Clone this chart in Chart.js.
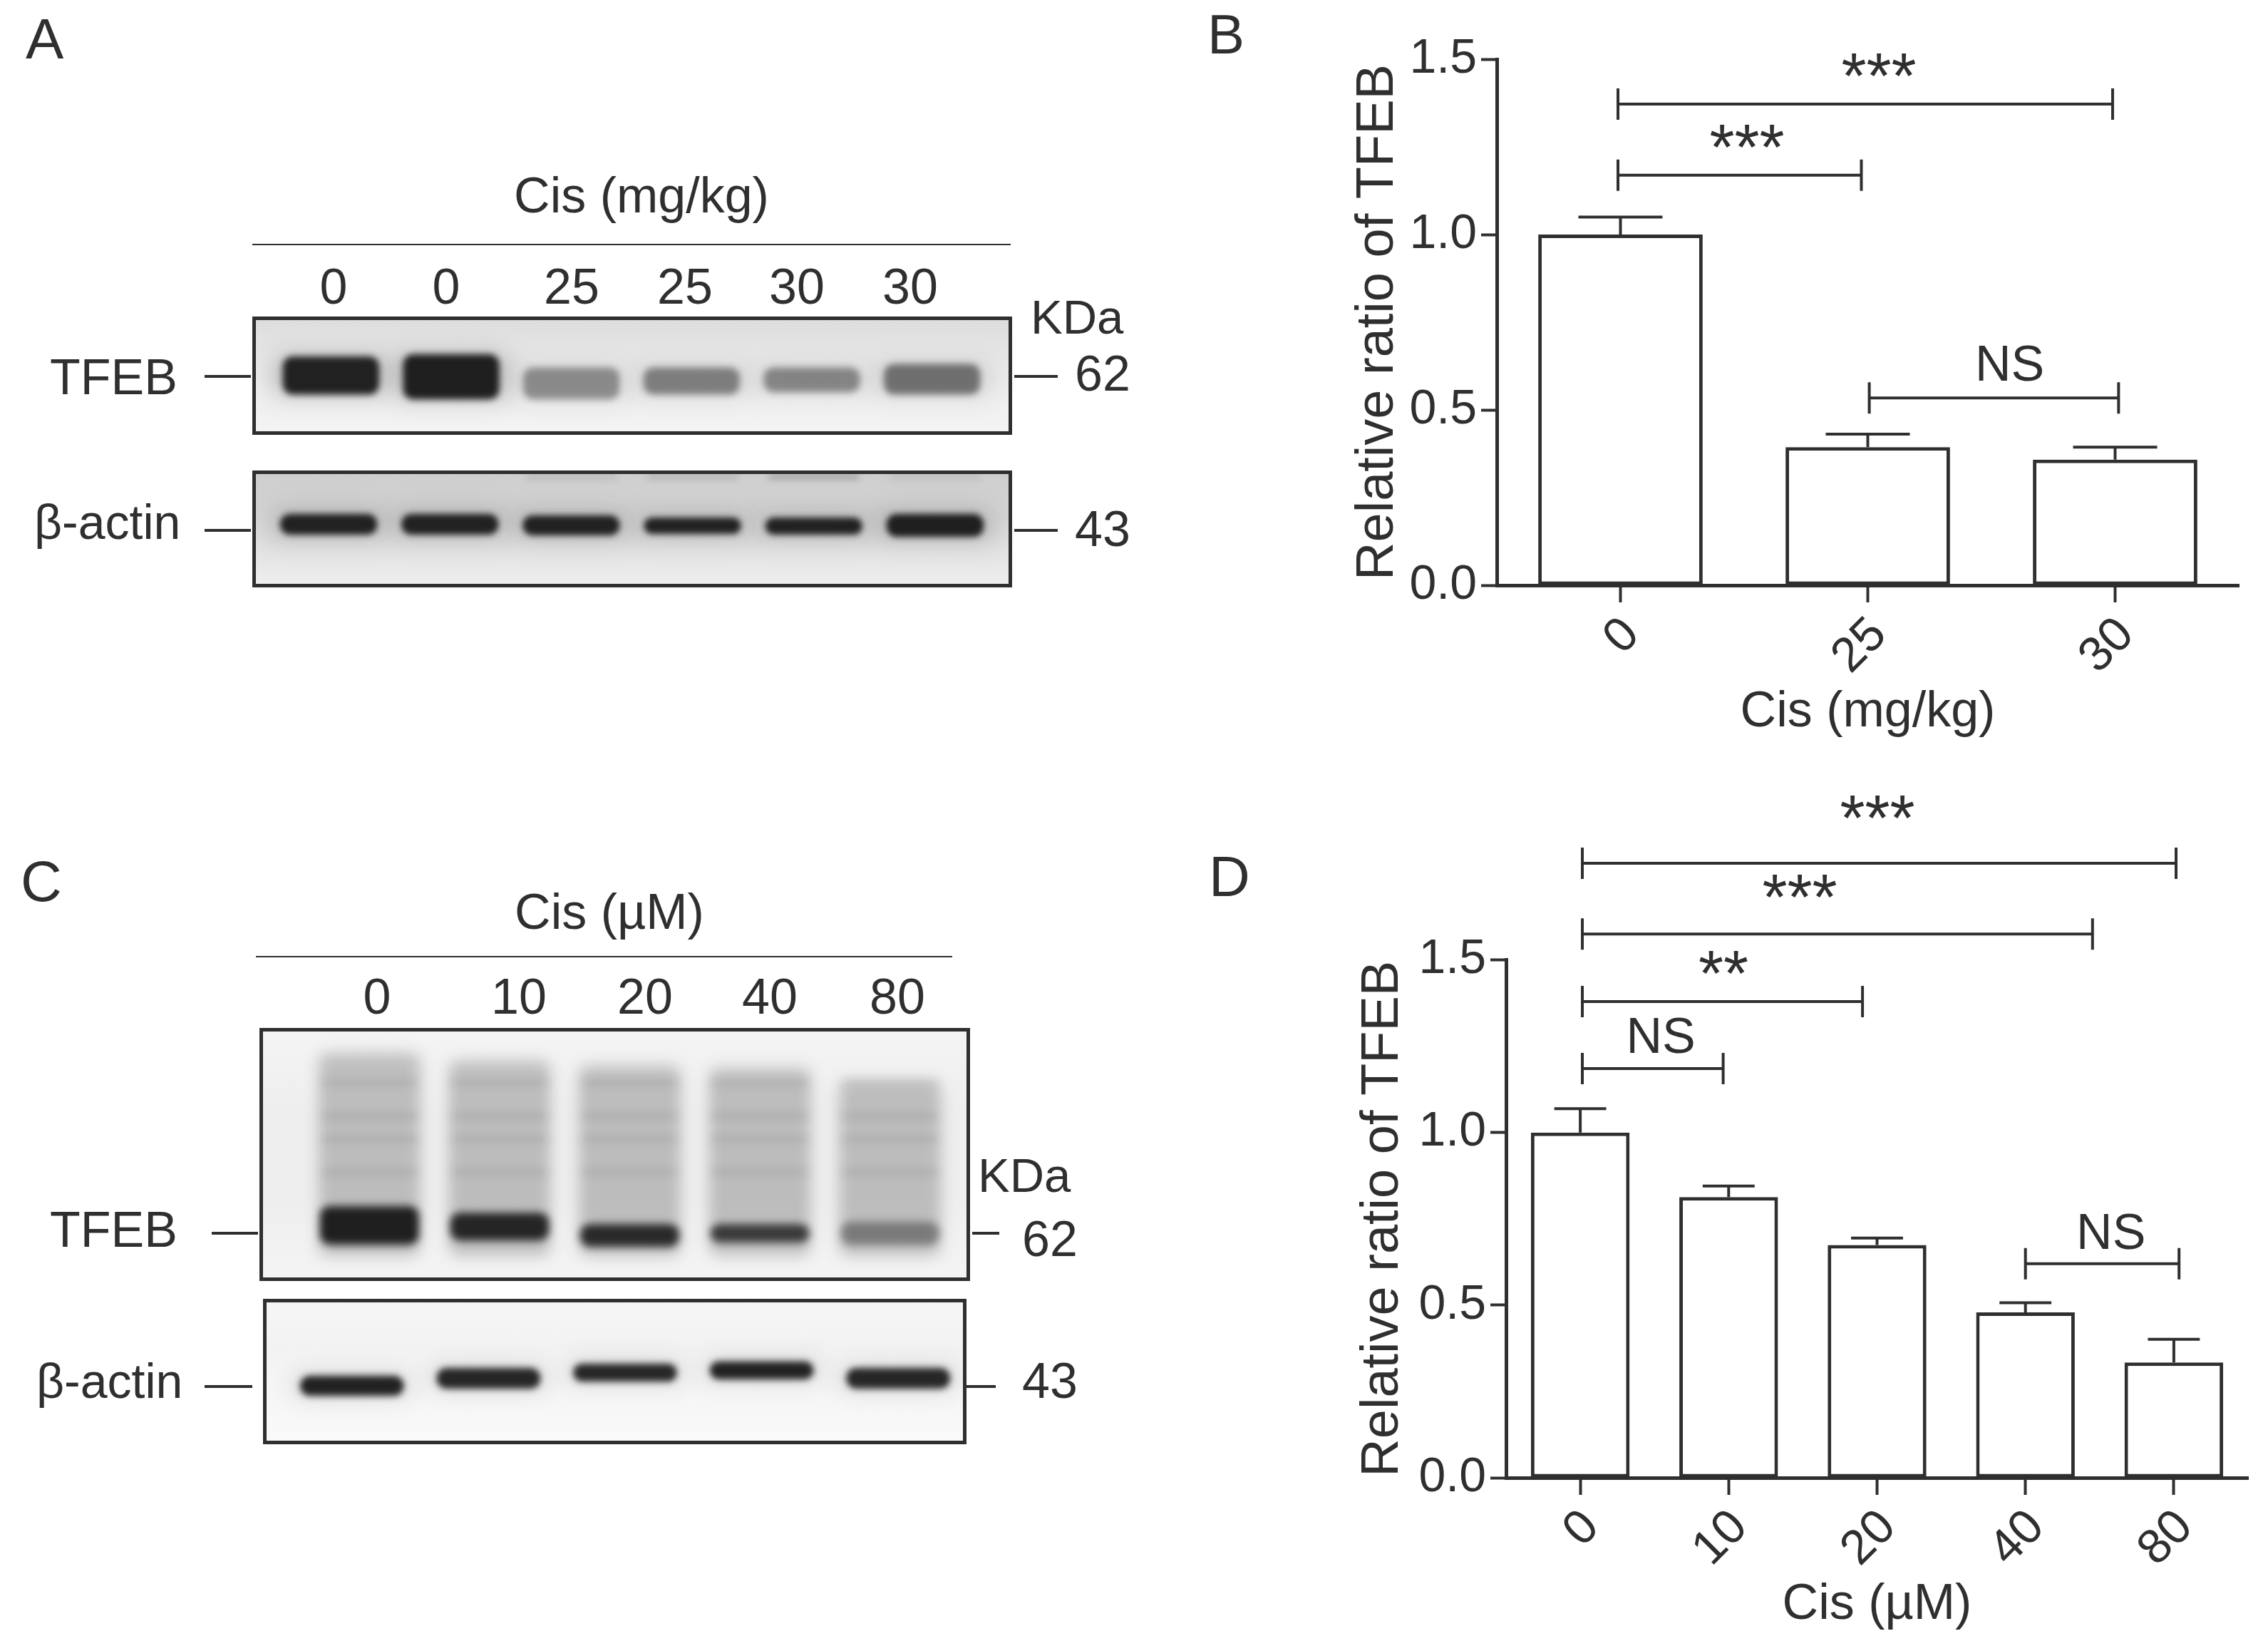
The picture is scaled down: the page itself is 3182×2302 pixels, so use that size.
<!DOCTYPE html>
<html>
<head>
<meta charset="utf-8">
<title>TFEB blots</title>
<script src="https://cdn.jsdelivr.net/npm/chart.js@4"></script>
<style>
  html, body { margin: 0; background: #fff; }
  #page { position: relative; width: 3182px; height: 2302px; overflow: hidden; }
  canvas { position: absolute; }
  .txt { position: absolute; font-family: "Liberation Sans", Arial, sans-serif; color: #2f2f2f; line-height: 1; white-space: nowrap; }
  .rule { position: absolute; background: #2f2f2f; }
</style>
</head>
<body>
<div id="page">
  <canvas id="blotA1"></canvas>
  <canvas id="blotA2"></canvas>
  <canvas id="blotC1"></canvas>
  <canvas id="blotC2"></canvas>
  <canvas id="chartB"></canvas>
  <canvas id="chartD"></canvas>
</div>
<script>
// Panel B
const dosesB = ['0', '25', '30'];
const ratioB = [1.0, 0.394, 0.358];
const errTopB = [1.05, 0.431, 0.394];
// Panel D
const dosesD = ['0', '10', '20', '40', '80'];
const ratioD = [1.0, 0.813, 0.674, 0.479, 0.334];
const errTopD = [1.069, 0.845, 0.694, 0.507, 0.401];
const yTickLabels = ['0.0', '0.5', '1.0', '1.5'];

// Significance brackets: category index from / to, level on the ratio axis
const bracketFromB = [-0.01, -0.01, 1.006];
const bracketToB = [1.99, 0.974, 2.014];
const bracketLevelB = [1.372, 1.169, 0.534];
const bracketTextB = ['***', '***', 'NS'];
const bracketFromD = [0.014, 0.014, 0.014, 0.014, 3.0];
const bracketToD = [4.015, 3.452, 1.902, 0.963, 4.035];
const bracketLevelD = [1.78, 1.575, 1.379, 1.185, 0.62];
const bracketTextD = ['***', '***', '**', 'NS', 'NS'];

// Blot lanes. Band edges are % of the blot height, density is 0..1
const lanesA = ['0', '0', '25', '25', '30', '30'];
const lanesC = ['0', '10', '20', '40', '80'];
const tfebTopA = [33.7, 32, 43, 43, 43, 40];
const tfebBottomA = [66, 70, 70, 66, 64, 66];
const tfebDensityA = [0.97, 0.98, 0.42, 0.48, 0.45, 0.55];
const actinTopA = [37.2, 37.2, 38.4, 40.2, 40.2, 37.2];
const actinBottomA = [54.9, 54.9, 55.5, 54.3, 54.9, 56.7];
const actinDensityA = [0.97, 0.97, 0.97, 0.97, 0.97, 0.98];
const extraDensityA = [0, 0, 0.1, 0.13, 0.22, 0.08];
const tfebTopC = [70.4, 73, 77.5, 77.5, 76.6];
const tfebBottomC = [85.6, 84, 86.5, 84.8, 85.6];
const tfebDensityC = [0.98, 0.95, 0.92, 0.82, 0.42];
const smearTopC = [10, 13, 15, 16, 21];
const ladderRowsC = [21.7, 35, 44, 57];
const actinTopC = [53, 47.5, 44.6, 43, 47.5];
const actinBottomC = [66.7, 61.8, 56.9, 55.4, 61.8];
const actinDensityC = [0.97, 0.95, 0.95, 0.97, 0.95];

// Text around the blots and page layout
const ink = '#2f2f2f';
const uiFont = '"Liberation Sans", Arial, sans-serif';
const textItems = [
  ['A', 36, 83, 80], ['B', 1694, 75, 78], ['C', 29, 1265, 80], ['D', 1696, 1258, 80],
  ['Cis (mg/kg)', 900, 298, 70, 'c'], ['KDa', 1446, 468, 67], ['TFEB', 70, 553, 70], ['62', 1508, 548, 70],
  ['β-actin', 48, 756, 68], ['43', 1508, 766, 70],
  ['Cis (µM)', 855, 1303, 70, 'c'], ['KDa', 1372, 1672, 67], ['TFEB', 70, 1749, 70], ['62', 1434, 1762, 70],
  ['β-actin', 51, 1961, 68], ['43', 1434, 1961, 70]
];
const laneTextA = [468, 626, 802, 961, 1118, 1277];
const laneTextC = [529, 728, 905, 1080, 1259];
const rules = [
  [354, 342, 1064, 2], [287, 526, 65, 4], [1423, 526, 61, 4], [287, 742, 65, 4], [1423, 742, 61, 4],
  [359, 1341, 977, 2], [297, 1728, 65, 4], [1364, 1728, 38, 4], [287, 1943, 67, 4], [1356, 1943, 41, 4]
];

const page = document.getElementById('page');

function addText(text, x, baseline, size, center) {
  const el = document.createElement('div');
  el.className = 'txt';
  el.textContent = text;
  el.style.fontSize = size + 'px';
  el.style.left = x + 'px';
  el.style.top = (baseline - 0.8465 * size) + 'px';
  if (center) el.style.transform = 'translateX(-50%)';
  page.appendChild(el);
}

textItems.forEach(t => addText(t[0], t[1], t[2], t[3], t[4] === 'c'));
lanesA.forEach((label, i) => addText(label, laneTextA[i], 426, 70, true));
lanesC.forEach((label, i) => addText(label, laneTextC[i], 1422, 70, true));
rules.forEach(r => {
  const el = document.createElement('div');
  el.className = 'rule';
  el.style.cssText += `left:${r[0]}px;top:${r[1]}px;width:${r[2]}px;height:${r[3]}px`;
  page.appendChild(el);
});

function placeCanvas(id, left, top, width, height) {
  const canvas = document.getElementById(id);
  canvas.width = width;
  canvas.height = height;
  canvas.style.left = left + 'px';
  canvas.style.top = top + 'px';
  canvas.style.width = width + 'px';
  canvas.style.height = height + 'px';
  return canvas;
}

// Per dataset blur so the floating bars read as film bands
const blurPlugin = {
  id: 'bandBlur',
  beforeDatasetDraw(chart, args) {
    chart.ctx.save();
    chart.ctx.filter = `blur(${chart.data.datasets[args.index].blur || 0}px)`;
  },
  afterDatasetDraw(chart) {
    chart.ctx.restore();
  }
};

// Film background and the frame round it
const filmPlugin = {
  id: 'film',
  beforeDraw(chart, args, opts) {
    const { ctx, width, height } = chart;
    const grad = ctx.createLinearGradient(0, 0, 0, height);
    opts.stops.forEach((c, i) => grad.addColorStop(i / (opts.stops.length - 1), c));
    ctx.fillStyle = grad;
    ctx.fillRect(0, 0, width, height);
  },
  afterDraw(chart) {
    const { ctx, width, height } = chart;
    ctx.strokeStyle = ink;
    ctx.lineWidth = 5;
    ctx.strokeRect(2.5, 2.5, width - 5, height - 5);
  }
};

function bandSet(tops, bottoms, density, blur, width) {
  return {
    data: tops.map((t, i) => [t, bottoms[i]]),
    backgroundColor: density.map(d => `rgba(28,28,28,${d})`),
    barPercentage: width,
    categoryPercentage: 1,
    blur: blur,
    clip: false,
    borderRadius: 14,
    borderSkipped: false
  };
}

function drawBlot(id, rect, inset, labels, datasets, stops) {
  const canvas = placeCanvas(id, rect[0], rect[1], rect[2], rect[3]);
  return new Chart(canvas, {
    type: 'bar',
    data: { labels: labels, datasets: datasets },
    plugins: [blurPlugin, filmPlugin],
    options: {
      responsive: false,
      animation: false,
      devicePixelRatio: 1,
      layout: { padding: { left: inset[0], right: inset[1], top: 0, bottom: 0 } },
      plugins: { legend: { display: false }, tooltip: { enabled: false }, film: { stops: stops } },
      scales: {
        x: { display: false, stacked: true },
        y: { display: false, min: 0, max: 100, reverse: true }
      }
    }
  });
}

const wide = arr => arr.map(() => 100);

drawBlot('blotA1', [354, 444, 1066, 166], [26, 28], lanesA, [
  bandSet(tfebTopA, tfebBottomA, tfebDensityA, 5, 0.8),
  bandSet(tfebTopA, tfebBottomA, tfebDensityA.map(d => d * 0.25), 16, 0.95)
], ['#dcdcdc', '#e6e6e6', '#eeeeee', '#f4f4f4']);

drawBlot('blotA2', [354, 660, 1066, 164], [22, 23], lanesA, [
  bandSet(actinTopA, actinBottomA, actinDensityA, 4, 0.8),
  bandSet(actinTopA, actinBottomA, actinDensityA.map(d => d * 0.3), 18, 0.95),
  bandSet(lanesA.map(() => 3), lanesA.map(() => 8), extraDensityA, 4, 0.75)
], ['#cdcdcd', '#d4d4d4', '#e2e2e2', '#efefef']);

drawBlot('blotC1', [364, 1442, 997, 355], [63, 21], lanesC, [
  bandSet(tfebTopC, tfebBottomC, tfebDensityC, 6, 0.76),
  ...ladderRowsC.map(r => bandSet(lanesC.map(() => r - 1.5), lanesC.map(() => r + 1.5), lanesC.map(() => 0.07), 6, 0.76)),
  bandSet(smearTopC, lanesC.map(() => 90), lanesC.map(() => 0.24), 10, 0.78)
], ['#f4f4f4', '#eeeeee', '#eeeeee', '#f4f4f4']);

drawBlot('blotC2', [369, 1822, 987, 204], [29, 0], lanesC, [
  bandSet(actinTopC, actinBottomC, actinDensityC, 5, 0.76),
  bandSet(actinTopC, actinBottomC, actinDensityC.map(d => d * 0.2), 16, 0.85)
], ['#f6f6f6', '#f2f2f2', '#f6f6f6', '#fafafa']);

// Error bars and brackets are drawn off the chart's own scales
const annotatePlugin = {
  id: 'annotate',
  afterDatasetsDraw(chart, args, opts) {
    const { ctx, scales: { x, y } } = chart;
    ctx.save();
    ctx.strokeStyle = ink;
    ctx.fillStyle = ink;
    ctx.lineWidth = 4;
    opts.errTop.forEach((top, i) => {
      const cx = x.getPixelForValue(i);
      const half = opts.capWidth * x.width / opts.errTop.length;
      ctx.beginPath();
      ctx.moveTo(cx, y.getPixelForValue(chart.data.datasets[0].data[i]));
      ctx.lineTo(cx, y.getPixelForValue(top));
      ctx.moveTo(cx - half, y.getPixelForValue(top));
      ctx.lineTo(cx + half, y.getPixelForValue(top));
      ctx.stroke();
    });
    const step = x.width / opts.errTop.length;
    opts.from.forEach((from, i) => {
      const x0 = x.getPixelForValue(0) + from * step;
      const x1 = x.getPixelForValue(0) + opts.to[i] * step;
      const yy = y.getPixelForValue(opts.level[i]);
      ctx.beginPath();
      ctx.moveTo(x0, yy - 22);
      ctx.lineTo(x0, yy + 22);
      ctx.moveTo(x1, yy - 22);
      ctx.lineTo(x1, yy + 22);
      ctx.moveTo(x0, yy);
      ctx.lineTo(x1, yy);
      ctx.stroke();
      const label = opts.text[i];
      const isStar = label.includes('*');
      ctx.font = isStar ? `90px ${uiFont}` : `70px ${uiFont}`;
      ctx.textAlign = 'center';
      ctx.textBaseline = 'alphabetic';
      ctx.fillText(label, x0 + opts.labelShift[i], yy - opts.labelRise[i]);
    });
    ctx.restore();
  }
};

function drawRatioChart(id, rect, doses, ratio, errTop, axisBox, padding, ann) {
  const canvas = placeCanvas(id, rect[0], rect[1], rect[2], rect[3]);
  return new Chart(canvas, {
    type: 'bar',
    data: {
      labels: doses,
      datasets: [{
        data: ratio,
        backgroundColor: '#ffffff',
        borderColor: ink,
        borderWidth: 5,
        borderSkipped: false,
        barPercentage: 0.665,
        categoryPercentage: 1,
        clip: false
      }]
    },
    plugins: [annotatePlugin],
    options: {
      responsive: false,
      animation: false,
      devicePixelRatio: 1,
      layout: { padding: padding },
      plugins: { legend: { display: false }, tooltip: { enabled: false }, annotate: ann },
      scales: {
        y: {
          min: 0,
          max: 1.5,
          afterFit: s => { s.width = axisBox[0]; },
          border: { display: true, width: 5, color: ink },
          grid: { display: true, drawOnChartArea: false, drawTicks: true, tickLength: 22, tickWidth: 4, tickColor: ink },
          ticks: {
            stepSize: 0.5,
            color: ink,
            padding: 6,
            font: { family: uiFont, size: 68 },
            callback: (v, i) => yTickLabels[i]
          },
          title: {
            display: true,
            text: 'Relative ratio of TFEB',
            color: ink,
            font: { family: uiFont, size: 74 },
            padding: { top: axisBox[2], bottom: 0 }
          }
        },
        x: {
          offset: true,
          afterFit: s => { s.height = axisBox[1]; },
          border: { display: true, width: 5, color: ink },
          grid: { display: true, offset: false, drawOnChartArea: false, drawTicks: true, tickLength: 24, tickWidth: 4, tickColor: ink },
          ticks: {
            minRotation: 45,
            maxRotation: 45,
            autoSkip: false,
            color: ink,
            padding: 6,
            labelOffset: 16,
            font: { family: uiFont, size: 68 }
          },
          title: {
            display: true,
            text: ann.xTitle,
            color: ink,
            font: { family: uiFont, size: 70 },
            padding: { top: 0, bottom: 8 }
          }
        }
      }
    }
  });
}

drawRatioChart('chartB', [1700, 0, 1482, 1050], dosesB, ratioB, errTopB, [400, 229, 189],
  { top: 83, right: 41, left: 0, bottom: 0 },
  {
    errTop: errTopB, capWidth: 0.17, from: bracketFromB, to: bracketToB, level: bracketLevelB, text: bracketTextB,
    labelShift: [366, 181, 197], labelRise: [8, 8, 24], xTitle: 'Cis (mg/kg)'
  });

drawRatioChart('chartD', [1700, 1100, 1482, 1202], dosesD, ratioD, errTopD, [413, 229, 196],
  { top: 246.5, right: 28, left: 0, bottom: 0 },
  {
    errTop: errTopD, capWidth: 0.175, from: bracketFromD, to: bracketToD, level: bracketLevelD, text: bracketTextD,
    labelShift: [414, 305, 198, 110, 120], labelRise: [32, 20, 8, 22, 21], xTitle: 'Cis (µM)'
  });
</script>
</body>
</html>
